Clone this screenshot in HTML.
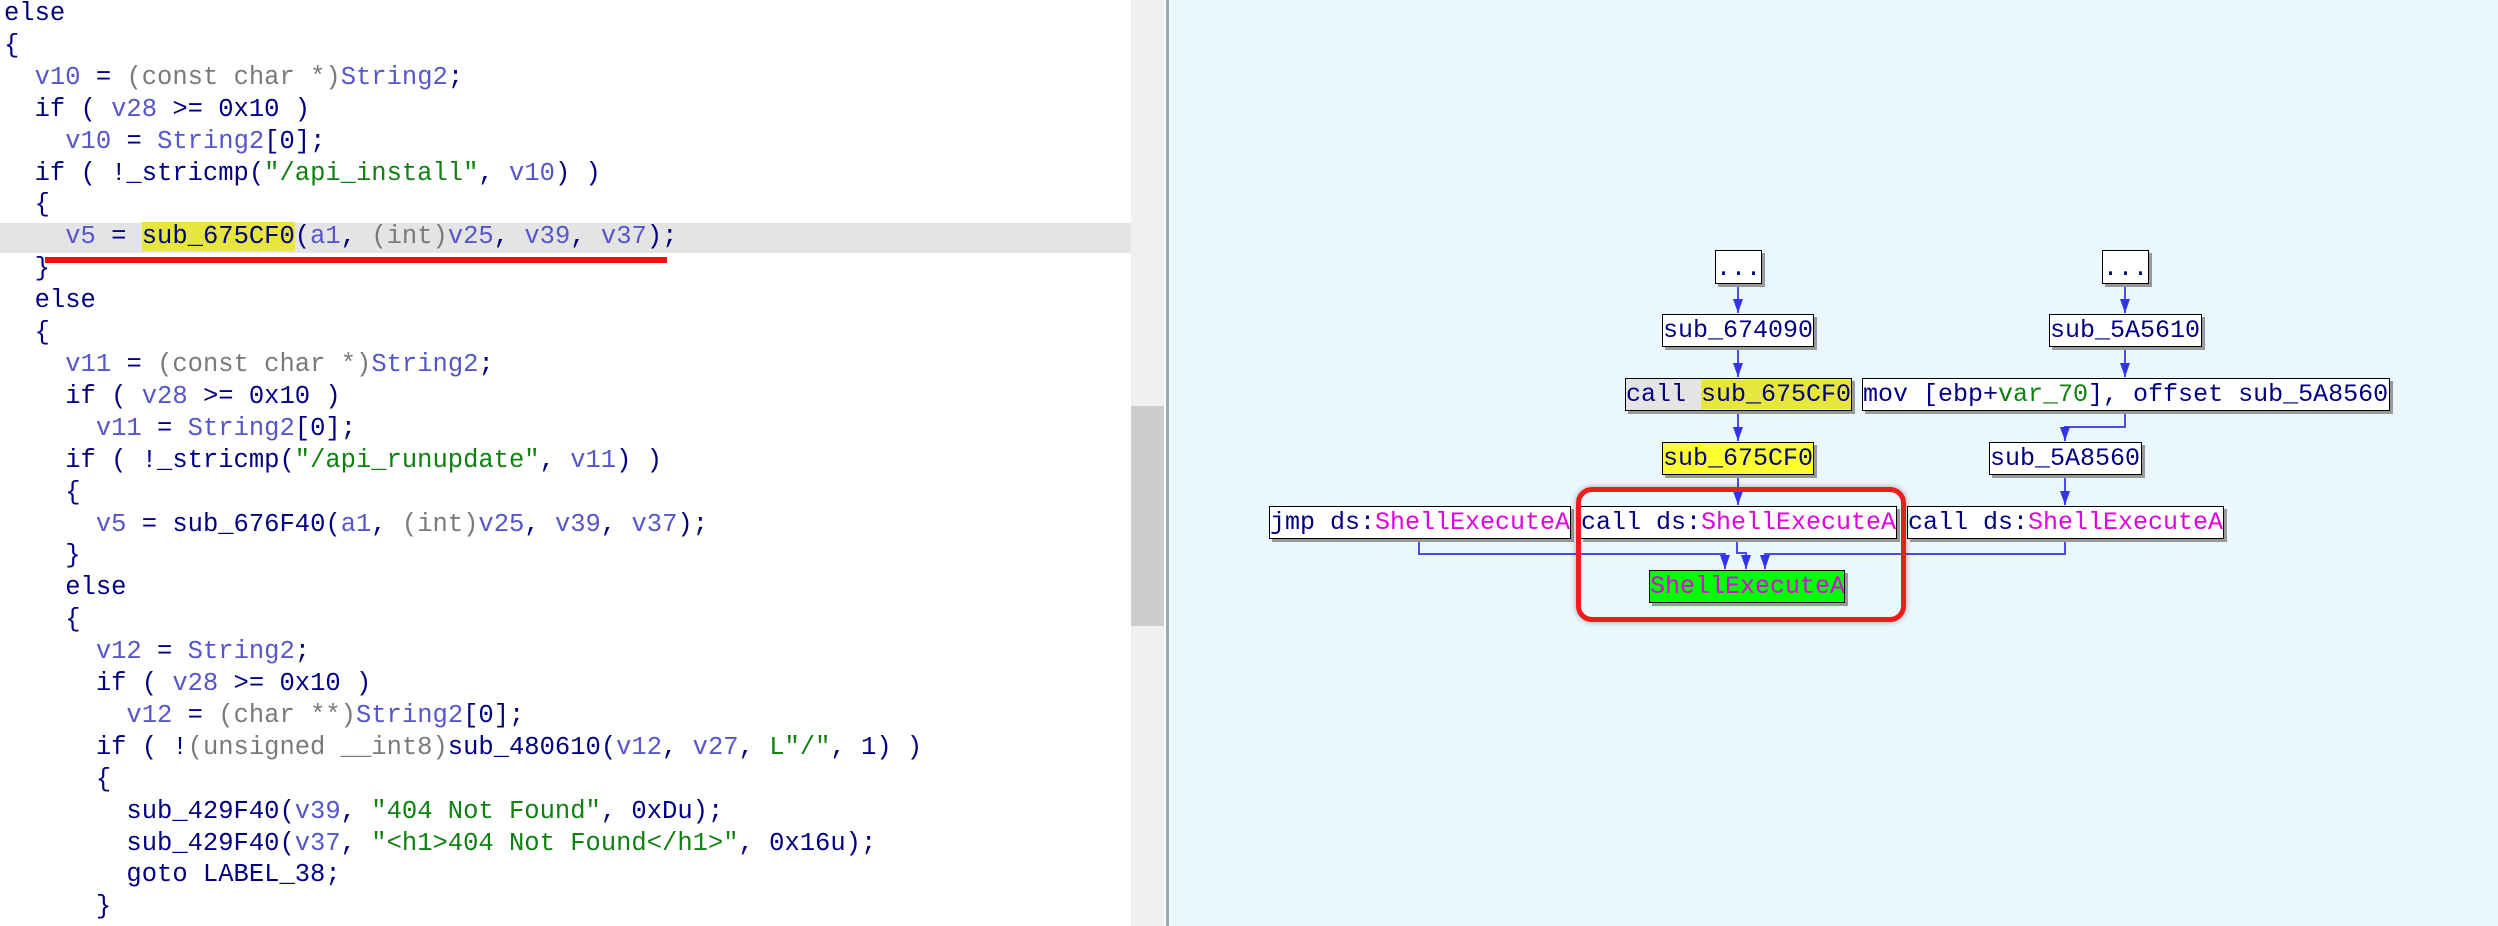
<!DOCTYPE html>
<html><head><meta charset="utf-8"><style>
body{margin:0;width:2498px;height:926px;overflow:hidden;background:#fff;position:relative;font-family:"Liberation Mono",monospace}
#code{position:absolute;left:4px;top:-2px;font-size:25.5px;line-height:31.9px;white-space:pre;color:#000080}
.v{color:#5656c8}.s{color:#108010}.g{color:#7a7a7a}
#hl{position:absolute;left:0;top:223px;width:1131px;height:30px;background:#e4e4e4}
#ul{position:absolute;left:45px;top:257px;width:622px;height:6px;background:#f01010}
#sb{position:absolute;left:1131px;top:0;width:33px;height:926px;background:#f0f0f0}
#th{position:absolute;left:1131px;top:406px;width:33px;height:220px;background:#cdcdcd}
#sep{position:absolute;left:1166px;top:0;width:3px;height:926px;background:#9aa9b6}
#rp{position:absolute;left:1169px;top:0;width:1329px;height:926px;background:#eaf7fd}
.b{position:absolute;height:31px;border:1px solid #000;background:#fff;box-shadow:3px 3px 0 #999;font-size:25px;line-height:31px;color:#000080;white-space:pre;overflow:hidden}
.m{color:#e000e0}
</style></head><body>
<div id="hl"></div>
<div id="code">else
{
  <span class="v">v10</span> = <span class="g">(const char *)</span><span class="v">String2</span>;
  if ( <span class="v">v28</span> &gt;= 0x10 )
    <span class="v">v10</span> = <span class="v">String2</span>[0];
  if ( !_stricmp(<span class="s">"/api_install"</span>, <span class="v">v10</span>) )
  {
    <span class="v">v5</span> = <span style="background:#e6e63c">sub_675CF0</span>(<span class="v">a1</span>, <span class="g">(int)</span><span class="v">v25</span>, <span class="v">v39</span>, <span class="v">v37</span>);
  }
  else
  {
    <span class="v">v11</span> = <span class="g">(const char *)</span><span class="v">String2</span>;
    if ( <span class="v">v28</span> &gt;= 0x10 )
      <span class="v">v11</span> = <span class="v">String2</span>[0];
    if ( !_stricmp(<span class="s">"/api_runupdate"</span>, <span class="v">v11</span>) )
    {
      <span class="v">v5</span> = sub_676F40(<span class="v">a1</span>, <span class="g">(int)</span><span class="v">v25</span>, <span class="v">v39</span>, <span class="v">v37</span>);
    }
    else
    {
      <span class="v">v12</span> = <span class="v">String2</span>;
      if ( <span class="v">v28</span> &gt;= 0x10 )
        <span class="v">v12</span> = <span class="g">(char **)</span><span class="v">String2</span>[0];
      if ( !<span class="g">(unsigned __int8)</span>sub_480610(<span class="v">v12</span>, <span class="v">v27</span>, <span class="s">L"/"</span>, 1) )
      {
        sub_429F40(<span class="v">v39</span>, <span class="s">"404 Not Found"</span>, 0xDu);
        sub_429F40(<span class="v">v37</span>, <span class="s">"&lt;h1&gt;404 Not Found&lt;/h1&gt;"</span>, 0x16u);
        goto LABEL_38;
      }</div>
<div id="ul"></div>
<div id="sb"></div><div id="th"></div>
<div id="rp"></div><div id="sep"></div>
<svg style="position:absolute;left:0;top:0" width="2498" height="926">
<defs>
<marker id="d" markerWidth="10" markerHeight="14" refX="5" refY="14" markerUnits="userSpaceOnUse"><path d="M0,0 L10,0 L5,14z" fill="#3333ee"/></marker></defs>
<g stroke="#4a4af0" stroke-width="2" fill="none">
<path d="M1738 284 V313" marker-end="url(#d)"/>
<path d="M2125 284 V313" marker-end="url(#d)"/>
<path d="M1738 348 V377" marker-end="url(#d)"/>
<path d="M2125 348 V377" marker-end="url(#d)"/>
<path d="M1738 413 V441" marker-end="url(#d)"/>
<path d="M2125 413 V427 H2065 V441" marker-end="url(#d)"/>
<path d="M1738 477 V505" marker-end="url(#d)"/>
<path d="M2065 477 V505" marker-end="url(#d)"/>
<path d="M1419 540 V554 H1725 V569" marker-end="url(#d)"/>
<path d="M1737 540 V553 H1746 V569" marker-end="url(#d)"/>
<path d="M2065 540 V554 H1765 V569" marker-end="url(#d)"/>
</g></svg>
<div class="b" style="left:1715px;top:250px;width:45px;height:32px;line-height:36px">...</div>
<div class="b" style="left:2102px;top:250px;width:45px;height:32px;line-height:36px">...</div>
<div class="b" style="left:1662px;top:314px;width:150px">sub_674090</div>
<div class="b" style="left:2049px;top:314px;width:151px">sub_5A5610</div>
<div class="b" style="left:1625px;top:378px;width:225px;background:#e4e4e4">call <span style="background:#e6e63c">sub_675CF0</span></div>
<div class="b" style="left:1862px;top:378px;width:526px">mov [ebp+<span style="color:#108010">var_70</span>], offset sub_5A8560</div>
<div class="b" style="left:1662px;top:442px;width:150px;background:#ffff30">sub_675CF0</div>
<div class="b" style="left:1989px;top:442px;width:151px">sub_5A8560</div>
<div class="b" style="left:1269px;top:506px;width:300px">jmp ds:<span class="m">ShellExecuteA</span></div>
<div class="b" style="left:1580px;top:506px;width:315px">call ds:<span class="m">ShellExecuteA</span></div>
<div class="b" style="left:1907px;top:506px;width:315px">call ds:<span class="m">ShellExecuteA</span></div>
<div class="b" style="left:1649px;top:570px;width:194px;background:#00ff00"><span class="m">ShellExecuteA</span></div>
<div style="position:absolute;left:1576px;top:487px;width:320px;height:125px;border:5px solid #ee1c1c;border-radius:16px;box-shadow:0 0 6px rgba(0,0,0,0.35)"></div>
</body></html>
